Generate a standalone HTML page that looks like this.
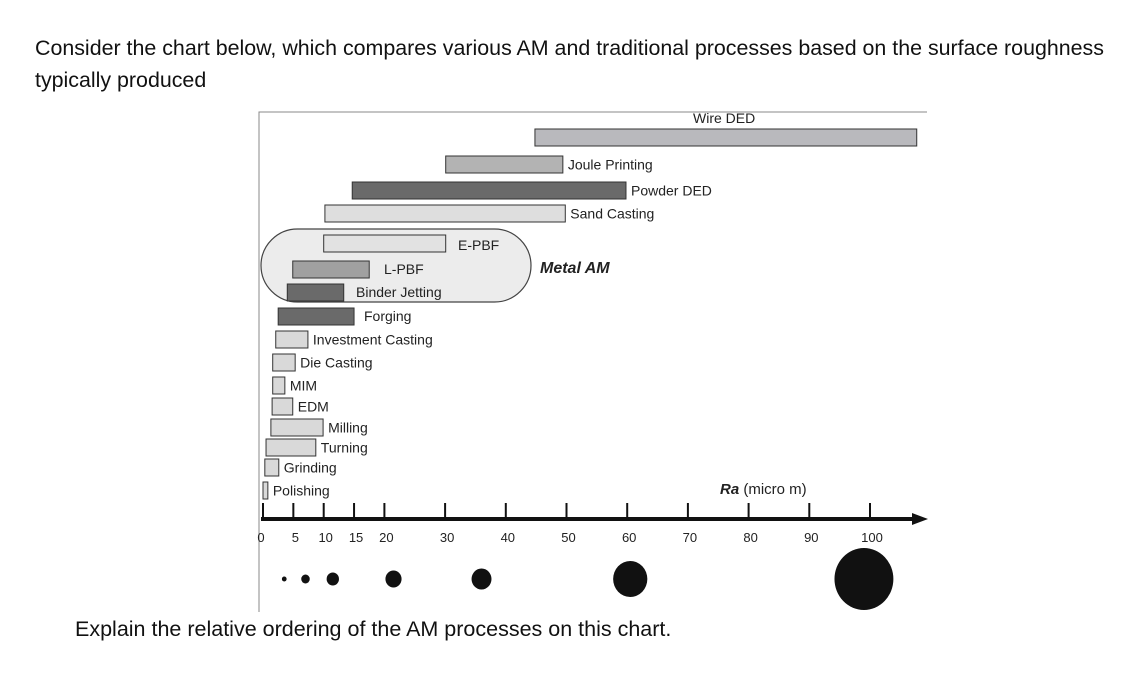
<!DOCTYPE html>
<html><head><meta charset="utf-8"><style>
body{margin:0;width:1132px;height:680px;background:#fff;overflow:hidden;font-family:"Liberation Sans",sans-serif}
.q{position:absolute;font-size:21.4px;color:#111;left:35px;white-space:nowrap}
</style></head><body>
<div class="q" style="top:32px;line-height:32px;width:1100px">Consider the chart below, which compares various AM and traditional processes based on the surface roughness<br>typically produced</div>
<svg id="c" width="1132" height="680" style="position:absolute;left:0;top:0" font-family="Liberation Sans, sans-serif"></svg>
<div class="q" style="top:617px;left:75px;font-size:21.5px">Explain the relative ordering of the AM processes on this chart.</div>
<script>
const processes=["Wire DED","Joule Printing","Powder DED","Sand Casting","E-PBF","L-PBF","Binder Jetting","Forging","Investment Casting","Die Casting","MIM","EDM","Milling","Turning","Grinding","Polishing"];
const raMin=[44.8,30.1,14.7,10.2,10,4.9,4,2.5,2.1,1.6,1.6,1.5,1.3,0.5,0.3,0];
const raMax=[107.7,49.4,59.8,49.8,30.1,17.5,13.3,15,7.4,5.3,3.6,4.9,9.9,8.7,2.6,0.8];
const shade=["#b9b9bd","#b3b3b3","#6a6a6a","#dedede","#e2e2e2","#a0a0a0","#6a6a6a","#6a6a6a","#d9d9d9","#d9d9d9","#d9d9d9","#d9d9d9","#d9d9d9","#d9d9d9","#d9d9d9","#d9d9d9"];
const ticks=[0,5,10,15,20,30,40,50,60,70,80,90,100];
const dotRa=[3.5,7,11.5,21.5,36,60.5,99];
const dotR=[2.5,4.5,6.5,8.5,10.5,18,31];
const x=v=>263+6.07*v;
const rowY=[129,156,182,205,235,261,284,308,331,354,377,398,419,439,459,482];
const svg=document.getElementById('c');const NS="http://www.w3.org/2000/svg";
function mk(t,a,p){const e=document.createElementNS(NS,t);for(const k in a)e.setAttribute(k,a[k]);(p||svg).appendChild(e);return e;}
let e;
e=mk('path',{d:'M259 612 V112 H927',fill:'none',stroke:'#888','stroke-width':1});


e=mk('rect',{x:261,y:229,width:270,height:73,rx:36.5,fill:'#ececec',stroke:'#444','stroke-width':1.2});


e=mk('text',{x:540,y:273,'font-size':16,'font-weight':'bold','font-style':'italic',fill:'#222'});e.textContent='Metal AM';


const lblPos={"Wire DED":[693,123],"E-PBF":[458,250],"L-PBF":[384,274],"Binder Jetting":[356,297],"Forging":[364,321]};
processes.forEach((p,i)=>{
 const x0=x(raMin[i]),x1=x(raMax[i]);const y=rowY[i];
 e=mk('rect',{x:x0,y:y,width:Math.max(x1-x0,4),height:17,fill:shade[i],stroke:'#333','stroke-width':1});
 
 
 const lp=lblPos[p]||[x1+5,y+13.5];
 e=mk('text',{x:lp[0],y:lp[1],'font-size':14,fill:'#222'});e.textContent=p;
 
 
});
e=mk('line',{x1:261,y1:519,x2:915,y2:519,stroke:'#111','stroke-width':4});


e=mk('path',{d:'M912 513 L928 519 L912 525 Z',fill:'#111'});


ticks.forEach(t=>{
 e=mk('line',{x1:x(t),y1:503,x2:x(t),y2:519,stroke:'#111','stroke-width':2});
 
 
 e=mk('text',{x:x(t)+(t==0?-2:2),y:542,'font-size':13,'text-anchor':'middle',fill:'#222'});e.textContent=t;
 
 
});
e=mk('text',{x:720,y:494,'font-size':15,fill:'#222'});e.innerHTML='<tspan font-weight="bold" font-style="italic">Ra</tspan> (micro m)';


dotRa.forEach((d,i)=>{
 e=mk('ellipse',{cx:x(d),cy:579,rx:dotR[i]*0.95,ry:dotR[i],fill:'#111'});
 
 
});
</script>
</body></html>
